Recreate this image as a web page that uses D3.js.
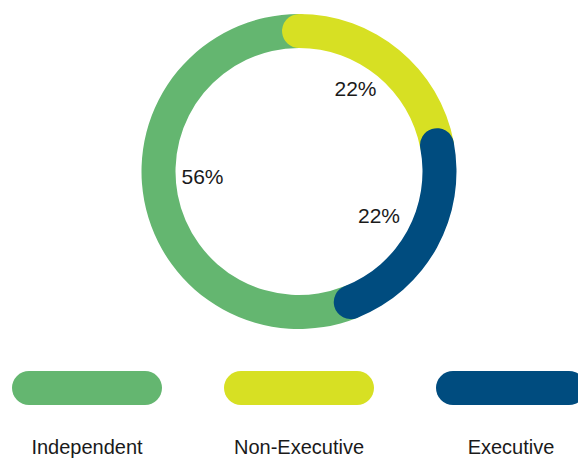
<!DOCTYPE html>
<html>
<head>
<meta charset="utf-8">
<script src="https://cdn.jsdelivr.net/npm/d3@7"></script>
<style>
  html, body { margin: 0; padding: 0; background: #fff; }
  svg { display: block; }
  text { font-family: "Liberation Sans", Arial, sans-serif; fill: #1a1a1a; }
</style>
</head>
<body>
<svg id="chart" width="578" height="459"></svg>
<script>
// ---- data ----
const categories = ["Independent", "Non-Executive", "Executive"];
const values = [56, 22, 22];
const valueLabels = ["56%", "22%", "22%"];
const colors = ["#64b670", "#d7e023", "#004c7f"];

// ---- layout config ----
const W = 578, H = 459;
const cx = 299, cy = 171.5;
const rOuter = 157.5, rInner = 123.5;
const thick = rOuter - rInner;
const rMid = (rOuter + rInner) / 2;
const capAngle = (thick / 2) / rMid;
const ringOrder = [1, 2, 0];      // clockwise from 12 o'clock
const drawOrder = [0, 1, 2];      // z-order (later on top)
const labelRadius = 97;
const labelNudge = [[-1.2, -13.1], [-5.3, -8.5], [-5, -2.6]];

const svg = d3.select("#chart");

const pie = d3.pie()
  .sort((a, b) => ringOrder.indexOf(a) - ringOrder.indexOf(b))
  .value(i => values[i]);
const arcsByIdx = {};
pie(d3.range(categories.length)).forEach(a => { arcsByIdx[a.data] = a; });

const ringArc = d3.arc()
  .innerRadius(rInner)
  .outerRadius(rOuter)
  .cornerRadius(thick / 2);

const g = svg.append("g").attr("transform", `translate(${cx},${cy})`);

g.selectAll("path.seg")
  .data(drawOrder.map(i => arcsByIdx[i]))
  .join("path")
  .attr("class", "seg")
  .attr("fill", d => colors[d.data])
  .attr("d", d => ringArc({
    startAngle: d.startAngle - capAngle,
    endAngle: d.endAngle + capAngle
  }));

const labelArc = d3.arc().innerRadius(labelRadius).outerRadius(labelRadius);
g.selectAll("text.pct")
  .data(d3.range(categories.length).map(i => arcsByIdx[i]))
  .join("text")
  .attr("class", "pct")
  .attr("text-anchor", "middle")
  .attr("dy", "0.35em")
  .attr("font-size", 21)
  .attr("x", d => labelArc.centroid(d)[0] + labelNudge[d.data][0])
  .attr("y", d => labelArc.centroid(d)[1] + labelNudge[d.data][1])
  .text(d => valueLabels[d.data]);

// ---- legend ----
const pillW = 150, pillH = 34;
const legendX = d3.scalePoint().domain(categories).range([87, 511]);
const legend = svg.append("g");
legend.selectAll("rect")
  .data(categories)
  .join("rect")
  .attr("x", d => legendX(d) - pillW / 2)
  .attr("y", 371)
  .attr("width", pillW)
  .attr("height", pillH)
  .attr("rx", pillH / 2)
  .attr("fill", (d, i) => colors[i]);

legend.selectAll("text")
  .data(categories)
  .join("text")
  .attr("x", d => legendX(d))
  .attr("y", 454)
  .attr("text-anchor", "middle")
  .attr("font-size", 20)
  .text(d => d);
</script>
</body>
</html>
